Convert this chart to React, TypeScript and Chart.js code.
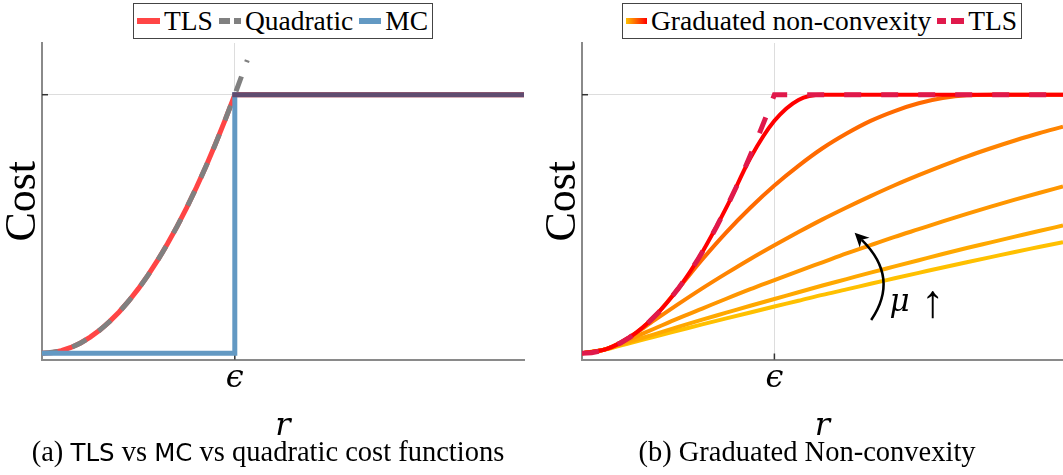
import React, { useEffect, useRef } from "react";
import { Chart, registerables } from "chart.js";

Chart.register(...registerables);

// ---------- data ----------
// Left panel: TLS vs MC vs quadratic
const R_QUAD = [0, 0.1, 0.2, 0.3, 0.4, 0.5, 0.6, 0.7, 0.8, 0.9, 1.0, 1.065];
const COST_QUAD = [0, 0.01, 0.04, 0.09, 0.16, 0.25, 0.36, 0.49, 0.64, 0.81, 1.0, 1.134];
const R_TLS = [0, 0.05, 0.1, 0.15, 0.2, 0.25, 0.3, 0.35, 0.4, 0.45, 0.5, 0.55, 0.6, 0.65, 0.7, 0.75, 0.8, 0.85, 0.9, 0.95, 1.0, 2.5];
const COST_TLS = [0, 0.0025, 0.01, 0.0225, 0.04, 0.0625, 0.09, 0.1225, 0.16, 0.2025, 0.25, 0.3025, 0.36, 0.4225, 0.49, 0.5625, 0.64, 0.7225, 0.81, 0.9025, 1.0, 1.0];
const R_MC = [0, 1, 1, 2.5];
const COST_MC = [0, 0, 1, 1];

// Right panel: graduated non-convexity surrogates (mu increasing: GNC_6 -> GNC_1)
const R_GNC = [0, 0.125, 0.25, 0.375, 0.5, 0.625, 0.75, 0.875, 1, 1.125, 1.25, 1.375, 1.5, 1.625, 1.75, 1.875, 2, 2.125, 2.25, 2.375, 2.5];
const GNC_1 = [0, 0.016, 0.063, 0.141, 0.25, 0.391, 0.563, 0.755, 0.899, 0.98, 1, 1, 1, 1, 1, 1, 1, 1, 1, 1, 1];
const GNC_2 = [0, 0.016, 0.063, 0.141, 0.25, 0.363, 0.468, 0.563, 0.649, 0.725, 0.793, 0.85, 0.899, 0.937, 0.967, 0.987, 0.998, 1, 1, 1, 1];
const GNC_3 = [0, 0.016, 0.063, 0.127, 0.19, 0.251, 0.309, 0.365, 0.418, 0.469, 0.518, 0.564, 0.608, 0.65, 0.689, 0.726, 0.761, 0.793, 0.823, 0.851, 0.876];
const GNC_4 = [0, 0.016, 0.055, 0.095, 0.135, 0.173, 0.211, 0.248, 0.283, 0.318, 0.352, 0.386, 0.418, 0.45, 0.48, 0.51, 0.539, 0.567, 0.594, 0.62, 0.645];
const GNC_5 = [0, 0.016, 0.045, 0.073, 0.102, 0.13, 0.157, 0.184, 0.21, 0.236, 0.262, 0.287, 0.312, 0.336, 0.36, 0.384, 0.407, 0.429, 0.451, 0.473, 0.494];
const GNC_6 = [0, 0.015, 0.04, 0.064, 0.088, 0.112, 0.135, 0.158, 0.181, 0.203, 0.226, 0.247, 0.269, 0.29, 0.311, 0.332, 0.352, 0.372, 0.392, 0.411, 0.43];
const GNC_SERIES = [GNC_6, GNC_5, GNC_4, GNC_3, GNC_2, GNC_1];
const GNC_COLORS = ["#ffc000", "#ffa800", "#ff9600", "#ff8400", "#ff6a00", "#ff0000"];

// Axes
const X_MIN = 0;
const X_MAX = 2.5;
const Y_MIN = -0.024;
const Y_MAX = 1.2;
const X_TICKS = [1];
const X_TICK_LABELS = ["\u03f5"];
const Y_TICKS = [1];
const Y_TICK_LABELS = [""];

// Annotation (data space)
const ARROW_FROM = [1.503, 0.129];
const ARROW_CTRL = [1.653, 0.293];
const ARROW_TO = [1.417, 0.466];
const MU_POS = [1.598, 0.164];
const UP_POS = [1.762, 0.14];

// Colours
const RED = "#ff4545";
const GRAY = "#808080";
const BLUE = "#6399c3";
const MC_OVER_TLS = "#604c70";
const CRIMSON = "#e0194b";

const SERIF = '"Liberation Serif", "Times New Roman", Tinos, "DejaVu Serif", serif';
const MATH = '"DejaVu Serif", serif';

const W = 1063;
const H = 475;
const PLOT_TOP = 43;
const PLOT_BOTTOM = 359.5;

const pts = (xs: number[], ys: number[]) => xs.map((x, i) => ({ x, y: ys[i] }));

const tickPlugin = {
  id: "insideTicks",
  beforeDatasetsDraw(chart: any) {
    const { ctx, chartArea, scales } = chart;
    ctx.save();
    ctx.strokeStyle = "#333";
    ctx.lineWidth = 1.5;
    X_TICKS.forEach((v) => {
      const px = scales.x.getPixelForValue(v);
      ctx.beginPath();
      ctx.moveTo(px, chartArea.bottom);
      ctx.lineTo(px, chartArea.bottom - 6);
      ctx.stroke();
    });
    Y_TICKS.forEach((v) => {
      const py = scales.y.getPixelForValue(v);
      ctx.beginPath();
      ctx.moveTo(chartArea.left, py);
      ctx.lineTo(chartArea.left + 6, py);
      ctx.stroke();
    });
    ctx.restore();
  },
};

const arrowPlugin = {
  id: "muArrow",
  afterDatasetsDraw(chart: any) {
    const { ctx, scales } = chart;
    const p = (a: number[]) => [scales.x.getPixelForValue(a[0]), scales.y.getPixelForValue(a[1])];
    const [x0, y0] = p(ARROW_FROM);
    const [cx, cy] = p(ARROW_CTRL);
    const [x1, y1] = p(ARROW_TO);
    const ang = Math.atan2(y1 - cy, x1 - cx);
    const headLen = 14;
    const headW = 7;
    const bx = x1 - (headLen - 4) * Math.cos(ang);
    const by = y1 - (headLen - 4) * Math.sin(ang);
    ctx.save();
    ctx.strokeStyle = "#000";
    ctx.fillStyle = "#000";
    ctx.lineWidth = 2.5;
    ctx.beginPath();
    ctx.moveTo(x0, y0);
    ctx.quadraticCurveTo(cx, cy, bx, by);
    ctx.stroke();
    const cos = Math.cos(ang);
    const sin = Math.sin(ang);
    const backX = x1 - headLen * cos;
    const backY = y1 - headLen * sin;
    const notchX = x1 - (headLen - 4) * cos;
    const notchY = y1 - (headLen - 4) * sin;
    ctx.beginPath();
    ctx.moveTo(x1, y1);
    ctx.lineTo(backX - headW * sin, backY + headW * cos);
    ctx.lineTo(notchX, notchY);
    ctx.lineTo(backX + headW * sin, backY - headW * cos);
    ctx.closePath();
    ctx.fill();
    const [mx, my] = p(MU_POS);
    const [ux, uy] = p(UP_POS);
    ctx.textBaseline = "alphabetic";
    ctx.textAlign = "left";
    ctx.font = `italic 31px ${MATH}`;
    ctx.fillText("\u03bc", mx, my);
    ctx.font = `46px ${SERIF}`;
    ctx.fillText("\u2191", ux, uy);
    ctx.restore();
  },
};

function baseOptions(rightPad: number): any {
  return {
    responsive: false,
    animation: false,
    events: [],
    layout: { padding: { top: PLOT_TOP, right: rightPad, bottom: 0, left: 0 } },
    plugins: { legend: { display: false }, tooltip: { enabled: false }, title: { display: false } },
    elements: { point: { radius: 0 }, line: { borderCapStyle: "butt", borderJoinStyle: "miter" } },
    scales: {
      x: {
        type: "linear",
        min: X_MIN,
        max: X_MAX,
        afterBuildTicks: (s: any) => {
          s.ticks = X_TICKS.map((v) => ({ value: v }));
        },
        afterFit: (s: any) => {
          s.height = H - PLOT_BOTTOM;
        },
        ticks: {
          autoSkip: false,
          maxRotation: 0,
          padding: 0,
          color: "#000",
          font: { family: MATH, style: "italic", size: 32 },
          callback: (_v: any, i: number) => X_TICK_LABELS[i] ?? "",
        },
        grid: { color: "#dddddd", lineWidth: 1, drawTicks: false },
        border: { display: true, color: "#8a8a8a", width: 2 },
        title: {
          display: true,
          text: "r",
          color: "#000",
          font: { family: MATH, style: "italic", size: 32 },
          padding: { top: 0, bottom: 29 },
        },
      },
      y: {
        type: "linear",
        min: Y_MIN,
        max: Y_MAX,
        afterBuildTicks: (s: any) => {
          s.ticks = Y_TICKS.map((v) => ({ value: v }));
        },
        afterFit: (s: any) => {
          s.width = 42;
        },
        ticks: {
          autoSkip: false,
          padding: 0,
          callback: (_v: any, i: number) => Y_TICK_LABELS[i] ?? "",
        },
        grid: { color: "#dddddd", lineWidth: 1, drawTicks: false },
        border: { display: true, color: "#8a8a8a", width: 2 },
        title: {
          display: true,
          text: "Cost",
          color: "#000",
          font: { family: SERIF, size: 44, lineHeight: 1.05 },
          padding: { top: 0, bottom: 0 },
        },
      },
    },
  };
}

function leftConfig(): any {
  return {
    type: "line",
    data: {
      datasets: [
        {
          label: "TLS",
          data: pts(R_TLS, COST_TLS),
          borderColor: RED,
          borderWidth: 5,
          tension: 0,
          order: 3,
        },
        {
          label: "Quadratic",
          data: pts(R_QUAD, COST_QUAD),
          borderColor: GRAY,
          borderWidth: 5,
          borderDash: [16, 15],
          cubicInterpolationMode: "monotone",
          order: 2,
        },
        {
          label: "MC",
          data: pts(R_MC, COST_MC),
          borderColor: BLUE,
          borderWidth: 5,
          tension: 0,
          borderCapStyle: "square",
          order: 1,
          segment: {
            borderColor: (c: any) => (c.p0.parsed.y === 1 && c.p1.parsed.y === 1 ? MC_OVER_TLS : undefined),
          },
        },
      ],
    },
    options: baseOptions(16),
    plugins: [tickPlugin],
  };
}

function rightConfig(): any {
  const gnc = GNC_SERIES.map((s, i) => ({
    label: "Graduated non-convexity",
    data: pts(R_GNC, s),
    borderColor: GNC_COLORS[i],
    borderWidth: 4,
    cubicInterpolationMode: "monotone",
    order: 10 - i,
  }));
  return {
    type: "line",
    data: {
      datasets: [
        ...gnc,
        {
          label: "TLS",
          data: pts(R_TLS, COST_TLS),
          borderColor: CRIMSON,
          borderWidth: 5,
          borderDash: [17, 20],
          tension: 0,
          order: 0,
        },
      ],
    },
    options: baseOptions(0),
    plugins: [tickPlugin, arrowPlugin],
  };
}

function ChartCanvas({ left, width, config }: { left: number; width: number; config: () => any }) {
  const ref = useRef<HTMLCanvasElement>(null);
  useEffect(() => {
    const chart = new Chart(ref.current as HTMLCanvasElement, config());
    return () => chart.destroy();
  }, []);
  return (
    <canvas
      ref={ref}
      width={width}
      height={H}
      style={{ position: "absolute", left, top: 0, width, height: H, display: "block" }}
    />
  );
}

type Item = { label: string; sample: React.CSSProperties; sampleWidth: number };

function LegendBox({ left, items }: { left: number; items: Item[] }) {
  return (
    <div
      style={{
        position: "absolute",
        left,
        top: 3,
        height: 36,
        boxSizing: "border-box",
        border: "1px solid #444",
        background: "#fff",
        display: "flex",
        alignItems: "center",
        padding: "0 4px 0 3px",
        fontFamily: SERIF,
        fontSize: 27.5,
        lineHeight: 1,
        whiteSpace: "nowrap",
        color: "#000",
      }}
    >
      {items.map((it, i) => (
        <React.Fragment key={i}>
          <span
            style={{
              display: "inline-block",
              width: it.sampleWidth,
              height: 6,
              marginRight: 4,
              ...it.sample,
            }}
          />
          <span style={{ marginRight: i === items.length - 1 ? 0 : 6 }}>{it.label}</span>
        </React.Fragment>
      ))}
    </div>
  );
}

const LEFT_ITEMS: Item[] = [
  { label: "TLS", sampleWidth: 23, sample: { background: RED } },
  {
    label: "Quadratic",
    sampleWidth: 22,
    sample: { background: `linear-gradient(to right, ${GRAY} 0 11px, transparent 11px 15px, ${GRAY} 15px 22px)` },
  },
  { label: "MC", sampleWidth: 22, sample: { background: BLUE } },
];

const RIGHT_ITEMS: Item[] = [
  {
    label: "Graduated non-convexity",
    sampleWidth: 21,
    sample: { background: "linear-gradient(to right, #ffc000, #ff0000)" },
  },
  {
    label: "TLS",
    sampleWidth: 27,
    sample: { background: `linear-gradient(to right, ${CRIMSON} 0 9px, transparent 9px 14px, ${CRIMSON} 14px 27px)` },
  },
];

const captionStyle: React.CSSProperties = {
  position: "absolute",
  top: 438,
  textAlign: "center",
  fontFamily: SERIF,
  fontSize: 28.5,
  lineHeight: 1,
  whiteSpace: "nowrap",
  color: "#000",
};
const sans: React.CSSProperties = { fontFamily: '"DejaVu Sans", sans-serif', fontSize: 24.5 };

export default function App() {
  return (
    <div style={{ position: "absolute", left: 0, top: 0, width: W, height: H, background: "#fff", overflow: "hidden" }}>
      <ChartCanvas left={0} width={540} config={leftConfig} />
      <ChartCanvas left={540} width={523} config={rightConfig} />
      <LegendBox left={133} items={LEFT_ITEMS} />
      <LegendBox left={622} items={RIGHT_ITEMS} />
      <div style={{ ...captionStyle, left: 0, width: 536 }}>
        (a) <span style={sans}>TLS</span> vs <span style={sans}>MC</span> vs quadratic cost functions
      </div>
      <div style={{ ...captionStyle, left: 551, width: 512 }}>(b) Graduated Non-convexity</div>
    </div>
  );
}
